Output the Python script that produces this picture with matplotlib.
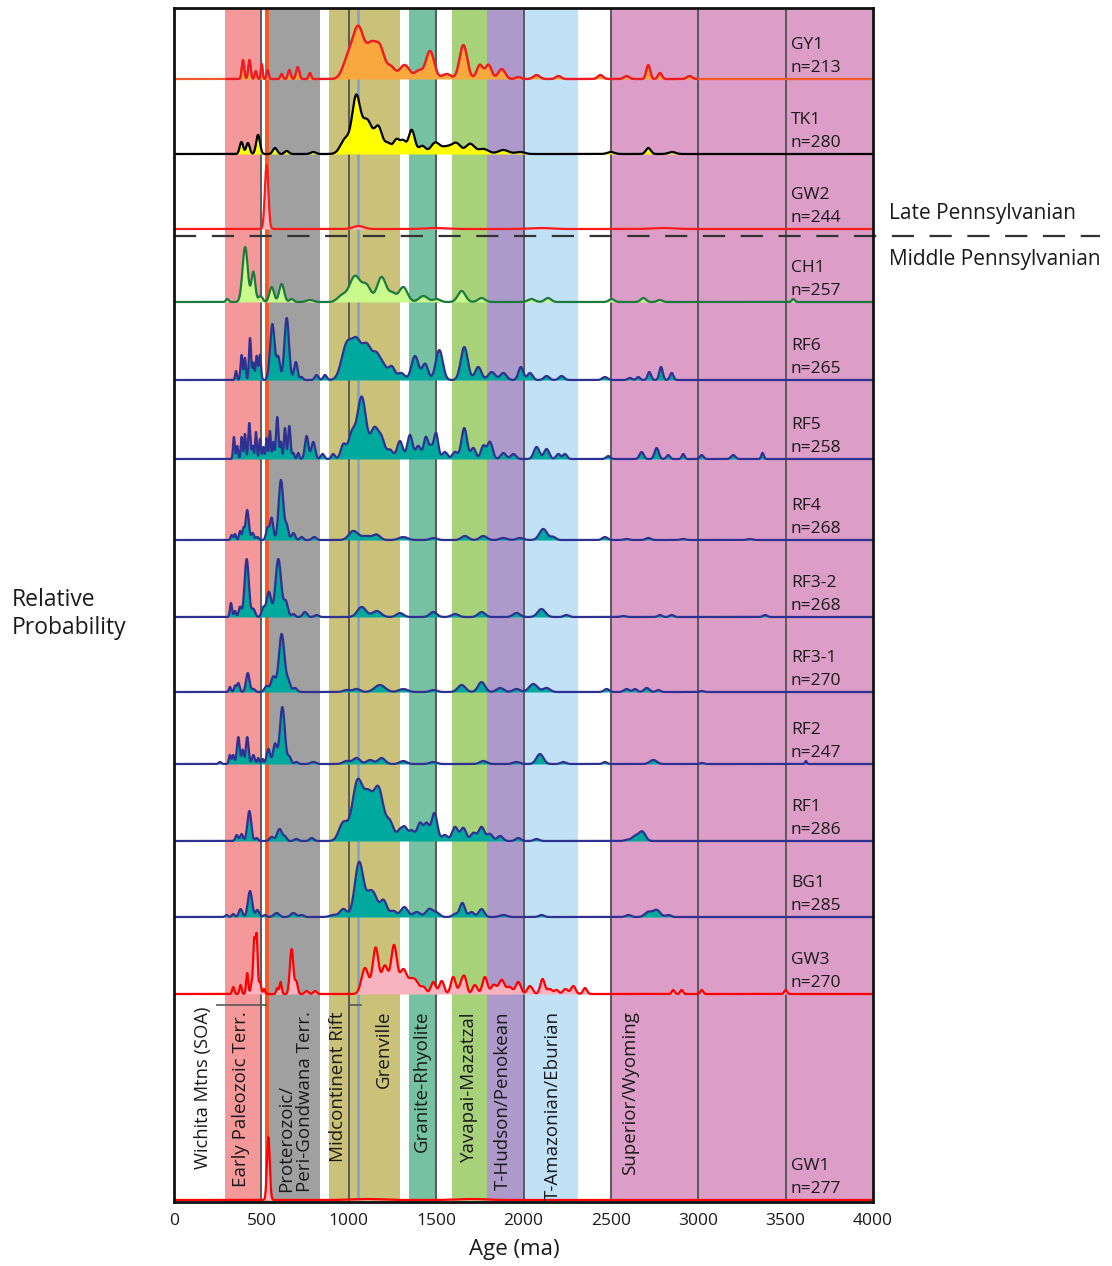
import matplotlib
matplotlib.use('Agg')
import matplotlib.pyplot as plt
import numpy as np

plt.rcParams['font.family'] = ['Open Sans', 'DejaVu Sans']

# Detrital zircon samples, top to bottom
samples = ['GY1', 'TK1', 'GW2', 'CH1', 'RF6', 'RF5', 'RF4', 'RF3-2', 'RF3-1',
           'RF2', 'RF1', 'BG1', 'GW3', 'GW1']
counts = [213, 280, 244, 257, 265, 258, 268, 268, 270, 247, 286, 285, 270, 277]
# baseline of every probability curve (stack units)
baselines = [1123, 1048, 973, 900, 822, 743, 662, 585, 510, 438, 361, 285, 208, 2]

# probability density components per sample: (age Ma, relative height, spread Ma)
gy1 = [(395, 19, 7), (432, 19, 7), (468, 8, 6), (502, 15, 5), (536, 9, 6), (616, 5, 7),
       (660, 9, 8), (708, 12, 9), (778, 6, 7), (990, 15, 28), (1055, 52, 35), (1130, 28, 25),
       (1178, 30, 25), (1240, 12, 25), (1320, 14, 28), (1400, 8, 22), (1465, 28, 24),
       (1560, 5, 25), (1656, 34, 22), (1750, 14, 18), (1800, 14, 18), (1875, 10, 20),
       (1970, 2, 15), (2075, 4, 18), (2200, 3, 15), (2440, 4, 15), (2590, 3, 15),
       (2714, 14, 11), (2781, 6, 11), (2950, 3, 15)]
tk1 = [(386, 12, 10), (423, 11, 10), (481, 19, 11), (578, 6, 12), (645, 3, 12), (797, 2, 15),
       (975, 10, 25), (1042, 38, 21), (1060, 22, 50), (1110, 20, 25), (1170, 25, 22),
       (1225, 10, 20), (1274, 14, 18), (1312, 12, 16), (1360, 24, 18), (1420, 8, 20),
       (1494, 11, 25), (1560, 7, 30), (1617, 10, 25), (1694, 10, 25), (1770, 5, 30),
       (1885, 4, 30), (1980, 2, 25), (2500, 2, 20), (2714, 6, 14), (2850, 2, 20)]
gw2 = [(530, 64, 10), (1055, 3, 30), (1500, 1, 60), (2100, 1, 60), (2800, 1, 60)]
ch1 = [(305, 3, 8), (407, 55, 15), (454, 30, 11), (495, 6, 12), (559, 15, 13), (616, 18, 14),
       (673, 3, 12), (778, 2, 20), (960, 6, 25), (1036, 26, 32), (1103, 15, 24), (1188, 25, 26),
       (1250, 8, 20), (1312, 15, 24), (1427, 6, 25), (1503, 3, 20), (1646, 11, 22),
       (1760, 4, 20), (2045, 3, 20), (2140, 4, 18), (2504, 3, 15), (2686, 4, 15),
       (2780, 2, 15), (3544, 3, 8)]
rf6 = [(355, 9, 5), (387, 25, 6), (406, 22, 5), (435, 42, 6), (454, 17, 5), (473, 24, 6),
       (492, 25, 6), (563, 56, 13), (597, 22, 10), (645, 62, 13), (697, 18, 10), (730, 3, 8),
       (816, 5, 10), (864, 5, 10), (990, 36, 30), (1045, 32, 25), (1103, 34, 28),
       (1160, 22, 22), (1200, 12, 20), (1246, 13, 18), (1300, 7, 20), (1379, 24, 20),
       (1437, 16, 17), (1518, 30, 20), (1661, 33, 20), (1741, 13, 18), (1818, 8, 20),
       (1885, 7, 18), (1985, 13, 14), (2037, 7, 15), (2132, 4, 15), (2218, 4, 15),
       (2466, 3, 15), (2609, 2, 12), (2657, 3, 10), (2720, 8, 10), (2787, 13, 10), (2848, 7, 10)]
rf5 = [(343, 22, 5), (362, 13, 5), (387, 22, 5), (406, 25, 5), (431, 36, 6), (450, 13, 5),
       (469, 27, 5), (492, 20, 5), (511, 12, 5), (530, 21, 5), (549, 28, 5), (568, 17, 5),
       (591, 42, 7), (612, 17, 5), (635, 31, 6), (660, 33, 7), (683, 6, 6), (711, 6, 6),
       (759, 23, 10), (797, 17, 11), (850, 5, 10), (911, 5, 10), (969, 14, 15), (1017, 24, 20),
       (1074, 62, 25), (1147, 30, 22), (1188, 18, 18), (1236, 9, 18), (1293, 18, 16),
       (1350, 24, 15), (1398, 13, 15), (1442, 22, 13), (1470, 10, 10), (1499, 26, 13),
       (1550, 7, 15), (1608, 7, 15), (1661, 31, 16), (1713, 11, 14), (1770, 13, 14),
       (1808, 17, 15), (1885, 6, 15), (1942, 5, 15), (2075, 12, 16), (2132, 10, 15),
       (2199, 5, 12), (2237, 5, 12), (2485, 3, 12), (2676, 7, 12), (2762, 11, 12),
       (2828, 4, 10), (2914, 5, 8), (3020, 4, 10), (3200, 4, 12), (3368, 6, 7)]
rf4 = [(330, 5, 6), (349, 6, 6), (378, 9, 6), (397, 11, 6), (419, 30, 9), (450, 7, 8),
       (477, 3, 8), (536, 12, 9), (559, 22, 9), (612, 60, 13), (645, 14, 10), (683, 7, 10),
       (730, 3, 10), (803, 3, 12), (1026, 9, 25), (1100, 4, 30), (1160, 5, 20), (1312, 3, 25),
       (1484, 2, 20), (1665, 4, 20), (1770, 4, 20), (1885, 2, 20), (1980, 2, 20),
       (2113, 11, 22), (2170, 3, 15), (2466, 3, 15), (2590, 1, 15), (2714, 2, 15),
       (2914, 1, 15), (3296, 1, 15)]
rf3_2 = [(326, 14, 6), (349, 6, 6), (378, 10, 8), (416, 58, 12), (454, 8, 10), (511, 9, 10),
         (543, 25, 13), (597, 58, 16), (640, 15, 12), (683, 3, 10), (749, 5, 12), (816, 2, 12),
         (1074, 10, 25), (1160, 6, 25), (1293, 4, 20), (1484, 5, 20), (1608, 3, 20),
         (1760, 5, 20), (1960, 4, 20), (2103, 8, 22), (2246, 2, 15), (2571, 1, 15),
         (2781, 2, 12), (2848, 2, 12), (3382, 2, 12)]
rf3_1 = [(320, 5, 6), (349, 6, 6), (368, 9, 8), (422, 19, 10), (454, 3, 10), (530, 6, 12),
         (568, 15, 13), (616, 58, 16), (654, 10, 12), (692, 4, 12), (988, 2, 20), (1045, 3, 20),
         (1178, 7, 30), (1312, 3, 25), (1484, 2, 20), (1646, 7, 22), (1760, 10, 20),
         (1866, 4, 20), (1960, 3, 20), (2056, 8, 24), (2132, 4, 20), (2476, 3, 15),
         (2590, 3, 15), (2638, 3, 12), (2705, 4, 15), (2771, 2, 12), (3020, 1, 12)]
rf2 = [(263, 2, 8), (320, 9, 6), (339, 9, 6), (368, 27, 8), (393, 14, 6), (419, 27, 8),
       (454, 9, 8), (482, 6, 6), (507, 5, 6), (540, 15, 10), (578, 20, 11), (620, 57, 14),
       (660, 7, 10), (700, 2, 10), (797, 2, 15), (988, 3, 20), (1045, 6, 20), (1122, 4, 20),
       (1188, 6, 20), (1312, 3, 20), (1484, 2, 20), (1770, 3, 20), (1960, 2, 20),
       (2094, 10, 20), (2228, 2, 15), (2466, 2, 12), (2743, 4, 20), (3020, 1, 12), (3616, 3, 5)]
rf1 = [(359, 6, 8), (387, 7, 8), (431, 30, 11), (473, 3, 8), (559, 4, 12), (604, 12, 14),
       (635, 4, 10), (700, 2, 12), (788, 3, 12), (969, 18, 25), (1051, 60, 30), (1112, 38, 25),
       (1170, 52, 28), (1236, 18, 22), (1293, 10, 16), (1322, 12, 15), (1360, 10, 16),
       (1408, 18, 17), (1446, 16, 14), (1490, 28, 17), (1550, 6, 16), (1608, 14, 17),
       (1656, 13, 16), (1713, 8, 16), (1760, 14, 17), (1808, 7, 16), (1866, 5, 16),
       (1970, 3, 15), (2075, 2, 15), (2590, 1, 15), (2640, 5, 20), (2680, 9, 18)]
bg1 = [(301, 2, 8), (339, 3, 8), (381, 8, 10), (435, 26, 12), (477, 7, 10), (520, 2, 10),
       (587, 4, 15), (683, 4, 15), (730, 2, 12), (911, 2, 20), (969, 8, 20), (1060, 55, 25),
       (1120, 20, 20), (1150, 15, 18), (1198, 17, 20), (1255, 6, 18), (1318, 10, 20),
       (1389, 5, 20), (1461, 8, 20), (1503, 4, 18), (1608, 3, 15), (1650, 14, 15),
       (1703, 5, 15), (1760, 8, 16), (1885, 2, 20), (2103, 2, 15), (2600, 2, 15),
       (2714, 5, 20), (2762, 7, 20), (2829, 2, 15)]
gw3 = [(339, 7, 6), (381, 9, 6), (419, 21, 6), (444, 10, 6), (459, 52, 6), (473, 57, 6),
       (492, 12, 6), (515, 5, 6), (591, 6, 6), (610, 12, 6), (673, 45, 10), (700, 12, 8),
       (759, 3, 10), (807, 3, 10), (1093, 26, 20), (1154, 46, 17), (1207, 28, 18),
       (1259, 48, 17), (1312, 24, 20), (1360, 13, 20), (1389, 8, 16), (1427, 7, 16),
       (1484, 12, 14), (1532, 13, 14), (1598, 17, 14), (1646, 11, 14), (1665, 13, 12),
       (1722, 9, 14), (1779, 17, 14), (1830, 9, 16), (1875, 14, 16), (1920, 7, 16),
       (1970, 12, 15), (2037, 8, 15), (2109, 15, 13), (2150, 5, 14), (2189, 4, 12),
       (2240, 5, 14), (2285, 8, 13), (2352, 6, 11), (2857, 4, 8), (2905, 4, 8),
       (3020, 4, 8), (3500, 4, 8)]
gw1 = [(540, 63, 8), (1100, 1, 80), (1700, 1, 80)]

components = [gy1, tk1, gw2, ch1, rf6, rf5, rf4, rf3_2, rf3_1, rf2, rf1, bg1, gw3, gw1]

teal, navy = '#00a99d', '#2e3192'
fill_colors = ['#f9a83e', '#ffff00', '#f7b7c1', '#caf98c'] + [teal] * 8 + ['#f7b3bf', '#f7b3bf']
line_colors = ['#ed1c24', '#000000', '#ff1a1a', '#1b7a3e'] + [navy] * 8 + ['#ff0000', '#ff0000']

# source terranes: (label, start Ma, end Ma, colour)
terranes = [('Early Paleozoic Terr.', 290, 490, '#f4989a'),
            ('Proterozoic/\nPeri-Gondwana Terr.', 543, 835, '#a0a0a0'),
            ('Midcontinent Rift', 885, 1048, '#cbc27a'),
            ('Grenville', 1067, 1292, '#cbc27a'),
            ('Granite-Rhyolite', 1345, 1500, '#75c1a2'),
            ('Yavapai-Mazatzal', 1590, 1790, '#a7d27a'),
            ('T-Hudson/Penokean', 1790, 1995, '#ad9aca'),
            ('T-Amazonian/Eburian', 2005, 2310, '#c1e1f7'),
            ('Superior/Wyoming', 2500, 4000, '#dc9dc7')]
label_x = [383, 695, 937, 1203, 1421, 1688, 1884, 2170, 2609]

ages = np.linspace(0, 4000, 4001)
ink = '#1a1a1a'

fig = plt.figure(figsize=(11.12, 12.66), dpi=100)
ax = fig.add_axes([174 / 1112, 64 / 1266, 699 / 1112, 1194 / 1266])
ax.set_xlim(0, 4000)
ax.set_ylim(0, 1194)

# terrane bands
for (name, a0, a1, col) in terranes:
    ax.axvspan(a0, a1, color=col, lw=0, zorder=0)
ax.axvspan(522, 543, color='#f15a29', lw=0, zorder=0)
ax.axvspan(1048, 1067, color='#7ea6dc', lw=0, zorder=0)
for v in range(500, 4000, 500):
    ax.axvline(v, color='#58595b', lw=1.4, zorder=1)

# stacked probability curves
for i, name in enumerate(samples):
    dens = np.zeros_like(ages, dtype=float)
    for (mu, h, s) in components[i]:
        dens += h * np.exp(-0.5 * ((ages - mu) / s) ** 2)
    b = baselines[i]
    ax.fill_between(ages, b, b + dens, color=fill_colors[i], lw=0, zorder=2)
    if name == 'GY1':
        ax.plot(ages, b + dens, color='#f15a29', lw=1.6, zorder=3)
        core = (ages > 300) & (ages < 2990)
        ax.plot(ages[core], b + dens[core], color=line_colors[i], lw=1.6, zorder=3)
    else:
        ax.plot(ages, b + dens, color=line_colors[i], lw=1.6, zorder=3)
    ax.text(3530, b + 34, name, fontsize=12.5, color=ink, va='center', ha='left', zorder=5)
    ax.text(3530, b + 11, 'n=%d' % counts[i], fontsize=12.5, color=ink,
            va='center', ha='left', zorder=5)

# terrane names in the lower panel
ax.text(168, 195, 'Wichita Mtns (SOA)', rotation=90, ha='center', va='top',
        fontsize=13.2, color=ink, zorder=5)
for (name, a0, a1, col), lx in zip(terranes, label_x):
    ax.text(lx, 191, name, rotation=90, ha='center', va='top', multialignment='left',
            fontsize=13.5, color=ink, zorder=5, linespacing=1.1)
ax.plot([245, 525], [197, 197], color='#58595b', lw=1.2, zorder=4)
ax.plot([1000, 1068], [197, 197], color='#58595b', lw=1.2, zorder=4)

# Late / Middle Pennsylvanian boundary
ax.plot([0, 5300], [966, 966], color='#333333', lw=1.6, ls=(0, (10, 7)),
        clip_on=False, zorder=6)
ax.text(4090, 988, 'Late Pennsylvanian', fontsize=15, color=ink,
        va='center', ha='left')
ax.text(4090, 942, 'Middle Pennsylvanian', fontsize=15, color=ink,
        va='center', ha='left')

ax.set_xticks(np.arange(0, 4001, 500))
ax.set_yticks([])
ax.tick_params(axis='x', length=0, pad=8, labelsize=12.5, labelcolor=ink)
for sp in ax.spines.values():
    sp.set_linewidth(2)
    sp.set_color('#111111')
    sp.set_zorder(7)

fig.text(514 / 1112, 1 - 1250 / 1266, 'Age (ma)', fontsize=16, color=ink,
         ha='center', va='center')
fig.text(12 / 1112, 1 - 600 / 1266, 'Relative', fontsize=16.5, color=ink, va='center')
fig.text(12 / 1112, 1 - 628 / 1266, 'Probability', fontsize=16.5, color=ink, va='center')

fig.savefig('out.png', dpi=100)
